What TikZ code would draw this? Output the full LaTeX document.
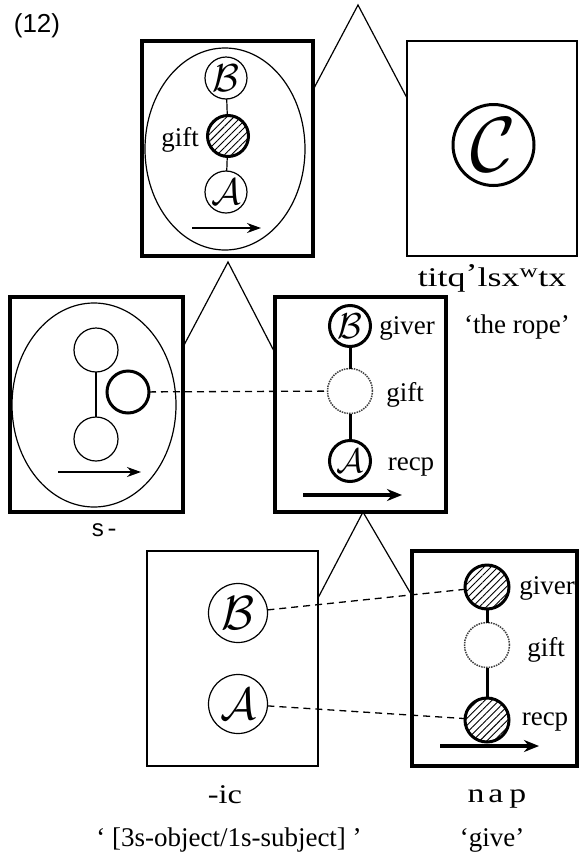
\documentclass[tikz,border=0pt]{standalone}
\usepackage{fontspec}
\setmainfont{Liberation Serif}
\newfontfamily\sanslab{Liberation Sans}
\newfontfamily\monolab{Liberation Mono}
\usetikzlibrary{arrows.meta,patterns.meta}
\begin{document}
\begin{tikzpicture}[x=1pt,y=-1pt,
  every node/.style={inner sep=0pt,outer sep=0pt},
  thickbox/.style={draw,rectangle,line width=4pt},
  thinbox/.style={draw,rectangle,line width=1.8pt},
  oval/.style={line width=1.2pt},
  thincirc/.style={draw,circle,line width=1.2pt,minimum size=42pt},
  thickcirc/.style={draw,circle,line width=3pt,minimum size=41pt},
  hatchcirc/.style={thickcirc,pattern={Lines[angle=45,distance=5pt,line width=0.9pt]}},
  dotcirc/.style={draw=black!75,circle,densely dotted,line width=1.5pt,minimum size=45pt},
  lab/.style={font=\fontsize{27}{30}\selectfont},
  link/.style={line width=1.2pt},
  thicklink/.style={line width=3pt},
  dashlink/.style={line width=1.3pt,dash pattern=on 7pt off 5pt},
  tri/.style={line width=1.2pt},
  thinarrow/.style={line width=1.5pt,-{Stealth[length=14pt,width=10pt]}},
  thickarrow/.style={line width=3.5pt,-{Stealth[length=15pt,width=12pt]}},
]
\useasboundingbox (0,0) rectangle (579,860);

% label (12)
\node[font=\sanslab\fontsize{26}{28}\selectfont] (num) at (37,26) {(12)};

% ---------- boxes ----------
\node[thickbox,minimum width=171pt,minimum height=215pt] (box1) at (227.5,148.5) {};
\node[thinbox,minimum width=170pt,minimum height=215pt] (box2) at (492,148.5) {};
\node[thickbox,minimum width=173pt,minimum height=215pt] (box3) at (96.5,404.5) {};
\node[thickbox,minimum width=171pt,minimum height=215pt] (box4) at (360.5,404.5) {};
\node[thinbox,minimum width=171pt,minimum height=215pt] (box5) at (232.5,658.5) {};
\node[thickbox,minimum width=165pt,minimum height=215pt] (box6) at (494,658.5) {};

% ---------- box 1 ----------
\draw[oval] (225,149) ellipse [x radius=80pt, y radius=101pt];
\node[thincirc] (b1) at (226,78) {};
\node (b1t) at (b1) {\scalebox{3.9}{$\mathcal{B}$}};
\node[hatchcirc] (g1) at (228,136) {};
\node[thincirc] (a1) at (226,192) {};
\node (a1t) at (a1) {\scalebox{3.7}{$\mathcal{A}$}};
\draw[link] (b1) -- (g1);
\draw[link] (g1) -- (a1);
\node[lab] (g1l) at (180,140) {gift};
\coordinate (ar1s) at (192,228);
\coordinate (ar1e) at (261,228);
\draw[thinarrow] (ar1s) -- (ar1e);

% ---------- box 2 ----------
\node[thickcirc,minimum size=81pt] (c2) at (493.5,145) {};
\node (c2t) at (c2) {\scalebox{7.8}{$\mathcal{C}$}};
\node[lab] (w2) at (492,278) {\scalebox{1.33}[1]{titq\raisebox{4pt}{’}lsx\textsuperscript{w}tx}};
\node[lab] (g2) at (517,327) {‘the rope’};

% triangle 1
\coordinate (t1l) at (313,90);
\coordinate (t1a) at (358,5);
\coordinate (t1r) at (407,98);
\draw[tri] (t1l) -- (t1a) -- (t1r);

% ---------- box 3 ----------
\draw[oval] (94,405) ellipse [x radius=82pt, y radius=102pt];
\node[thincirc,minimum size=44pt] (t3) at (96,350) {};
\node[thincirc,minimum size=44pt] (b3) at (96,439) {};
\node[thickcirc,minimum size=42pt] (k3) at (128,392) {};
\draw[link] (t3) -- (b3);
\coordinate (ar3s) at (58,472);
\coordinate (ar3e) at (141,472);
\draw[thinarrow] (ar3s) -- (ar3e);
\node[font=\monolab\fontsize{24}{26}\selectfont] (s3) at (105,530) {s-};

% triangle 2
\coordinate (t2l) at (183,347);
\coordinate (t2a) at (228,262);
\coordinate (t2r) at (275,353);
\draw[tri] (t2l) -- (t2a) -- (t2r);

% ---------- box 4 ----------
\node[thickcirc] (b4) at (350,326) {};
\node (b4t) at (b4) {\scalebox{3.6}{$\mathcal{B}$}};
\node[dotcirc] (g4) at (350,391) {};
\node[thickcirc] (a4) at (350,461) {};
\node (a4t) at (a4) {\scalebox{3.4}{$\mathcal{A}$}};
\draw[thicklink] (b4) -- (g4);
\draw[thicklink] (g4) -- (a4);
\node[lab] (b4l) at (407,328) {giver};
\node[lab] (g4l) at (405,395) {gift};
\node[lab] (a4l) at (411,467) {recp};
\coordinate (ar4s) at (303,495);
\coordinate (ar4e) at (402,495);
\draw[thickarrow] (ar4s) -- (ar4e);

\draw[dashlink] (k3) -- (g4);

% triangle 3
\coordinate (t3l) at (318,598);
\coordinate (t3a) at (363,512);
\coordinate (t3r) at (411,594);
\draw[tri] (t3l) -- (t3a) -- (t3r);

% ---------- box 5 ----------
\node[thincirc,minimum size=59pt] (b5) at (238,613) {};
\node (b5t) at (b5) {\scalebox{4.8}{$\mathcal{B}$}};
\node[thincirc,minimum size=59pt] (a5) at (238,704) {};
\node (a5t) at (a5) {\scalebox{4.5}{$\mathcal{A}$}};

% ---------- box 6 ----------
\node[hatchcirc,minimum size=44pt] (g6) at (487,587) {};
\node[dotcirc] (f6) at (487,645) {};
\node[hatchcirc,minimum size=44pt] (r6) at (487,720) {};
\draw[thicklink] (g6) -- (f6);
\draw[thicklink] (f6) -- (r6);
\node[lab] (g6l) at (547,588) {giver};
\node[lab] (f6l) at (546,650) {gift};
\node[lab] (r6l) at (545,722) {recp};
\coordinate (ar6s) at (440,746);
\coordinate (ar6e) at (539,746);
\draw[thickarrow] (ar6s) -- (ar6e);

\draw[dashlink] (b5) -- (g6);
\draw[dashlink] (a5) -- (r6);

% ---------- bottom labels ----------
\node[lab] (ic) at (225,795) {\scalebox{1.2}[1]{-ic}};
\node[lab] (icg) at (229,840) {‘ [3s-object/1s-subject] ’};
\node[lab] (nap) at (497,799) {\scalebox{1.25}[1]{n\kern3pt a\kern5pt p}};
\node[lab] (give) at (492,840) {‘give’};
\end{tikzpicture}
\end{document}
